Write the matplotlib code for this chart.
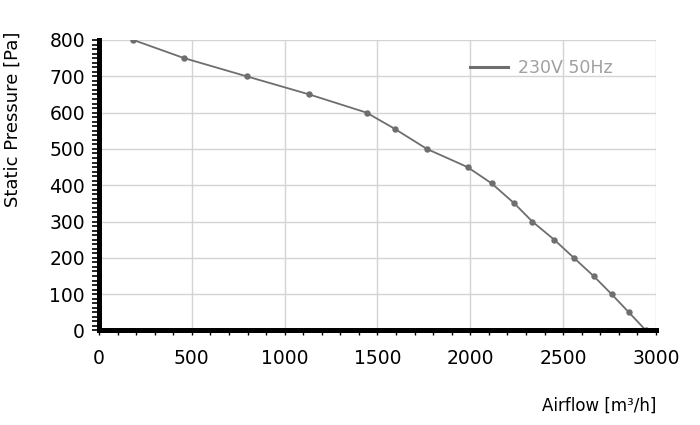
import matplotlib

matplotlib.use("Agg")
import matplotlib.pyplot as plt
from matplotlib.ticker import MultipleLocator

# fan curve
airflow = [185, 459, 795, 1133, 1441, 1594, 1766, 1985, 2115,
           2237, 2334, 2452, 2558, 2664, 2761, 2854, 2946]
pressure = [800, 750, 700, 650, 600, 555, 500, 450, 405,
            350, 300, 250, 200, 150, 100, 50, 0]
series_label = "230V 50Hz"

x_ticks = [0, 500, 1000, 1500, 2000, 2500, 3000]
y_ticks = [0, 100, 200, 300, 400, 500, 600, 700, 800]


def draw_fan_curve():
    plt.rcParams["font.family"] = ["DejaVu Sans"]
    fig = plt.figure(figsize=(7, 4.25), dpi=100)
    ax = fig.add_axes([0.1414, 0.2224, 0.7957, 0.6835])

    ax.plot(airflow, pressure, "-o", color="#6e6e6e", linewidth=1.3,
            markersize=3.6, label=series_label, zorder=2)

    ax.set_xlim(0, 3000)
    ax.set_ylim(0, 800)
    ax.set_xticks(x_ticks)
    ax.set_yticks(y_ticks)
    ax.xaxis.set_minor_locator(MultipleLocator(100))
    ax.yaxis.set_minor_locator(MultipleLocator(12.5))

    # light grid, thick black axes on the left and bottom only
    ax.grid(True, which="major", color="#d4d4d4", linewidth=1.0, zorder=0)
    ax.set_axisbelow(True)
    for side in ["top", "right"]:
        ax.spines[side].set_visible(False)
    for side in ["left", "bottom"]:
        ax.spines[side].set_linewidth(3.6)
        ax.spines[side].set_color("black")

    ax.tick_params(axis="y", which="both", direction="out", length=5,
                   width=1.2, labelsize=13.5, pad=5)
    ax.tick_params(axis="x", which="both", direction="out", length=3.5,
                   width=1.0, labelsize=13.5, pad=9.5)

    ax.set_xlabel("Airflow [m³/h]", fontsize=12, loc="right", labelpad=21)
    ax.set_ylabel("Static Pressure [Pa]", fontsize=13, loc="top")
    ax.yaxis.set_label_coords(-0.139, 1.028)

    leg = ax.legend(loc="upper left", bbox_to_anchor=(0.666, 0.935),
                    frameon=False, fontsize=12.5, handlelength=2.2,
                    handletextpad=0.55, borderpad=0, borderaxespad=0,
                    labelcolor="#a0a0a0")
    for line in leg.get_lines():
        line.set_linewidth(2.2)
        line.set_marker("")

    fig.savefig("out.png", dpi=100)


if __name__ == "__main__":
    draw_fan_curve()
